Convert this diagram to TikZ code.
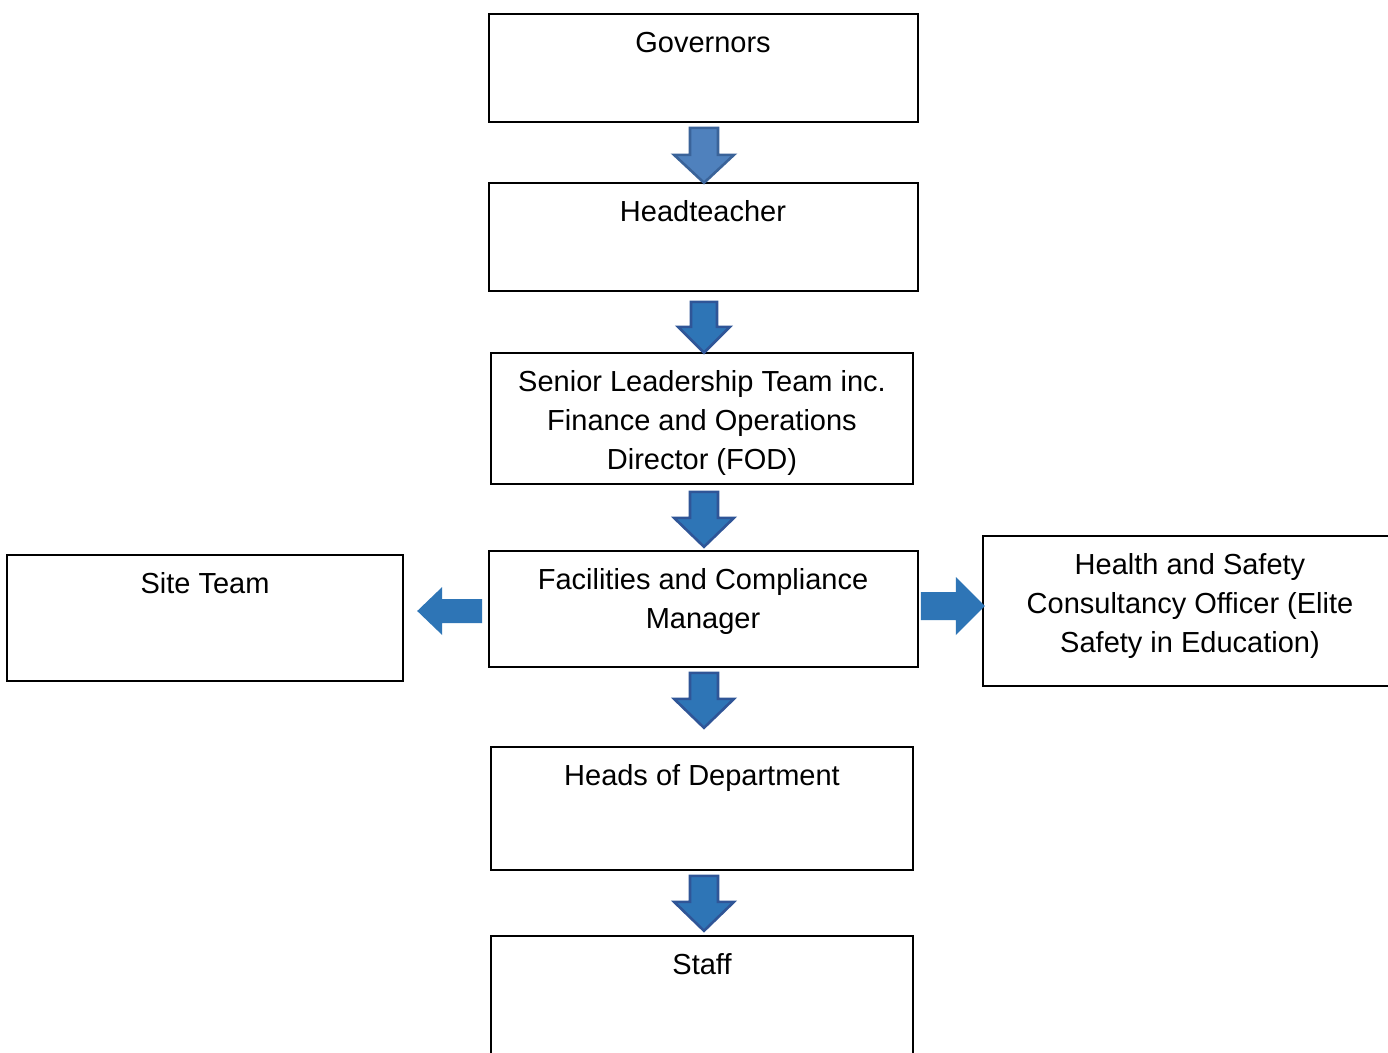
\documentclass[tikz,border=0pt]{standalone}
\usepackage{fontspec}
\setmainfont{Liberation Sans}
\usetikzlibrary{calc}
\definecolor{arrlight}{HTML}{4F81BD}
\definecolor{arrlightedge}{HTML}{3A6399}
\definecolor{arrblue}{HTML}{2E75B6}
\definecolor{arredge}{HTML}{2F5597}
\tikzset{
  box/.style={draw=black, line width=1.6pt, fill=white, rectangle, inner sep=0pt},
  txt/.style={inner sep=0pt, align=center, font=\fontsize{29}{39}\selectfont},
  arrfirst/.style={fill=arrlight, draw=arrlightedge, line width=2.6pt, line join=miter},
  arrdown/.style={fill=arrblue, draw=arredge, line width=2.6pt, line join=miter},
  arrside/.style={fill=arrblue, draw=none},
}
\begin{document}
\begin{tikzpicture}[x=1pt,y=-1pt]
\useasboundingbox (0,0) rectangle (1388,1052);
\clip (0,0) rectangle (1388,1052);
\fill[white] (0,0) rectangle (1388,1052);

% boxes
\node[box, minimum width=429, minimum height=108] (gov) at (703.5,68) {};
\node[box, minimum width=429, minimum height=108] (head) at (703.5,237) {};
\node[box, minimum width=422, minimum height=131] (slt) at (702,418.5) {};
\node[box, minimum width=429, minimum height=116] (fcm) at (703.5,609) {};
\node[box, minimum width=396, minimum height=126] (site) at (205,618) {};
\node[box, minimum width=414, minimum height=150] (hs) at (1190,611) {};
\node[box, minimum width=422, minimum height=123] (hod) at (702,808.5) {};
\node[box, minimum width=422, minimum height=160] (staff) at (702,1016) {};

% texts (base anchor = baseline of the last line)
\node[txt, anchor=base] (govt) at (703,52) {Governors};
\node[txt, anchor=base] (headt) at (703,221) {Headteacher};
\node[txt, anchor=base] (sltt) at (702,469) {Senior Leadership Team inc.\\Finance and Operations\\Director (FOD)};
\node[txt, anchor=base] (fcmt) at (703,628) {Facilities and Compliance\\Manager};
\node[txt, anchor=base] (sitet) at (205,593) {Site Team};
\node[txt, anchor=base] (hst) at (1190,652) {Health and Safety\\Consultancy Officer (Elite\\Safety in Education)};
\node[txt, anchor=base] (hodt) at (702,785) {Heads of Department};
\node[txt, anchor=base] (stafft) at (702,974) {Staff};

% arrow anchor points
\coordinate (a1) at ($(gov.south)+(0.5,5)$);
\coordinate (a2) at ($(head.south)+(0.5,10)$);
\coordinate (a3) at ($(slt.south)+(2,7)$);
\coordinate (a4) at ($(fcm.south)+(0.5,5)$);
\coordinate (a5) at ($(hod.south)+(2,5)$);
\coordinate (al) at ($(fcm.west)+(-6,2)$);
\coordinate (ar) at ($(fcm.east)+(2,-3)$);

% down arrows
\filldraw[arrfirst, shift={(a1)}] (-14,0) -- (14,0) -- (14,27) -- (30,27) -- (0,55) -- (-30,27) -- (-14,27) -- cycle;
\filldraw[arrdown, shift={(a2)}] (-13,0) -- (13,0) -- (13,25) -- (26,25) -- (0,51) -- (-26,25) -- (-13,25) -- cycle;
\filldraw[arrdown, shift={(a3)}] (-14,0) -- (14,0) -- (14,26) -- (30,26) -- (0,55) -- (-30,26) -- (-14,26) -- cycle;
\filldraw[arrdown, shift={(a4)}] (-14,0) -- (14,0) -- (14,26) -- (30,26) -- (0,55) -- (-30,26) -- (-14,26) -- cycle;
\filldraw[arrdown, shift={(a5)}] (-14,0) -- (14,0) -- (14,26) -- (30,26) -- (0,55) -- (-30,26) -- (-14,26) -- cycle;

% side arrows
\fill[arrside, shift={(al)}] (0,-12) -- (0,12) -- (-40,12) -- (-40,24) -- (-65,0) -- (-40,-24) -- (-40,-12) -- cycle;
\fill[arrside, shift={(ar)}] (0,-14) -- (0,14) -- (35,14) -- (35,29) -- (64,0) -- (35,-29) -- (35,-14) -- cycle;
\end{tikzpicture}
\end{document}
